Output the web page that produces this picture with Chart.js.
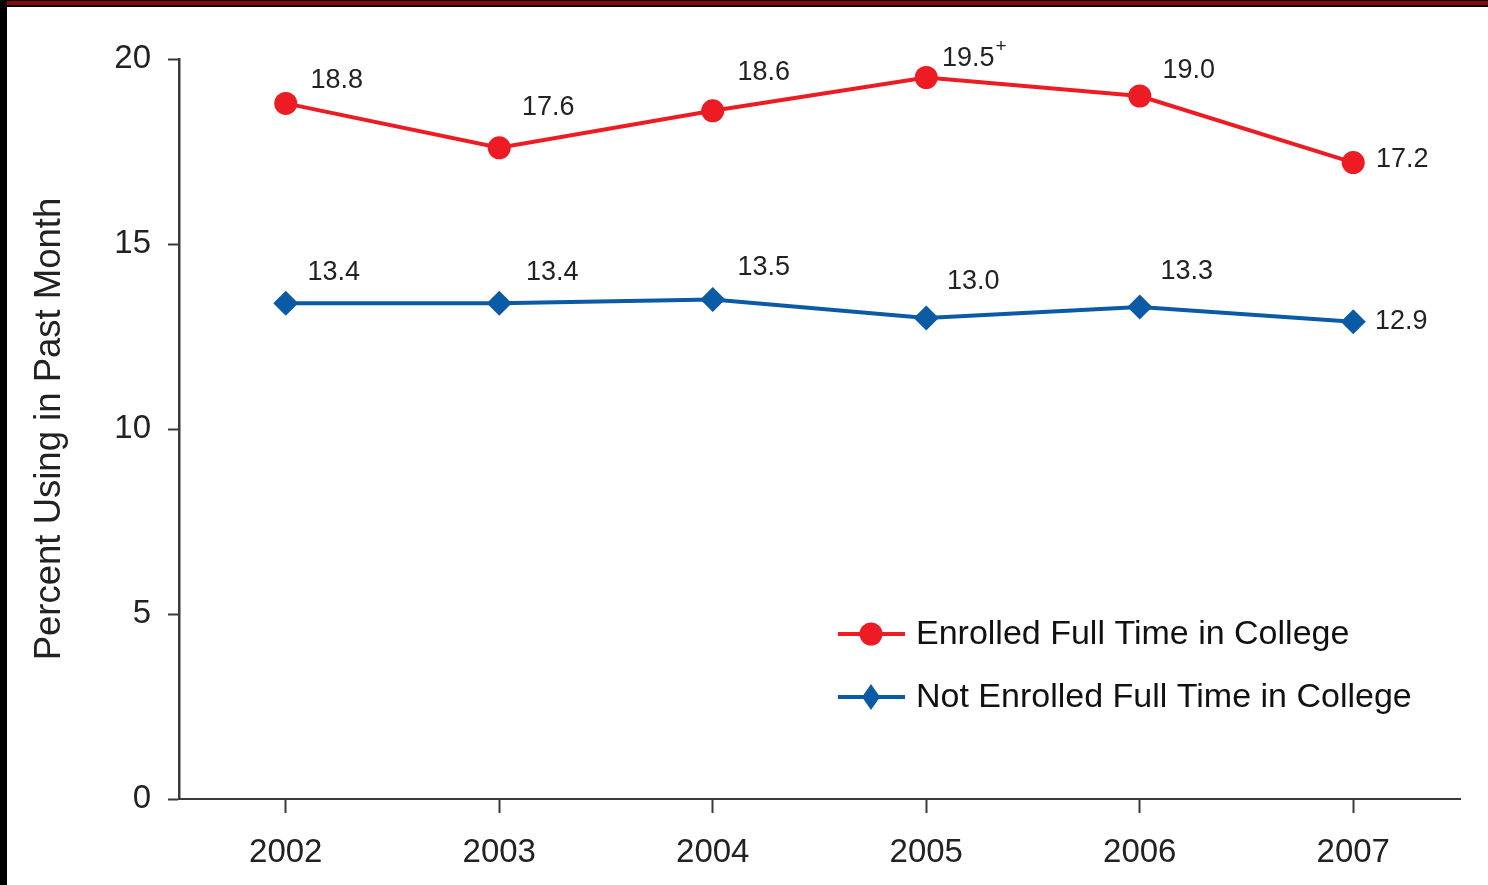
<!DOCTYPE html>
<html>
<head>
<meta charset="utf-8">
<script src="https://cdn.jsdelivr.net/npm/chart.js@4.4.0/dist/chart.umd.min.js"></script>
<style>
  html, body { margin: 0; padding: 0; background: #fff; }
  #wrap { position: relative; width: 1488px; height: 885px; overflow: hidden; }
  #barTop { position: absolute; left: 0; top: 0; width: 1488px; height: 7px;
            background: linear-gradient(#000 0px, #000 1px, #8a0a0a 1px, #8a0a0a 5px, #000 5px, #000 7px); }
  #barLeft { position: absolute; left: 0; top: 0; width: 7px; height: 885px; background: #000; }
  canvas { position: absolute; left: 0; top: 0; }
</style>
</head>
<body>
<div id="wrap">
  <canvas id="grafico" width="1488" height="885"></canvas>
  <div id="barTop"></div>
  <div id="barLeft"></div>
</div>
<script>
/* Dados do gráfico */
var anos = ['2002', '2003', '2004', '2005', '2006', '2007'];
var matriculados = [18.8, 17.6, 18.6, 19.5, 19.0, 17.2];
var naoMatriculados = [13.4, 13.4, 13.5, 13.0, 13.3, 12.9];
var rotulosMatriculados = ['18.8', '17.6', '18.6', '19.5', '19.0', '17.2'];
var rotulosNaoMatriculados = ['13.4', '13.4', '13.5', '13.0', '13.3', '12.9'];
var marcaMatriculados = ['', '', '', '+', '', ''];
var ticksY = [0, 5, 10, 15, 20];

var corVermelha = '#ed1c24';
var corAzul = '#0a5aa6';
var fonte = '"Liberation Sans", Arial, sans-serif';

/* deslocamento dos rótulos em relação ao ponto (px) */
var deslocMatriculados = [[51, -23], [49, -40], [51, -38], [42, -19], [49, -25], [49, -3]];
var deslocNaoMatriculados = [[48, -31], [53, -31], [51, -32], [47, -36], [47, -35], [48, 0]];

/* Plugin para escrever os valores */
var pluginRotulos = {
    id: 'rotulos',
    afterDatasetsDraw: function (chart) {
        var ctx = chart.ctx;
        var listas = [
            [rotulosMatriculados, deslocMatriculados, marcaMatriculados],
            [rotulosNaoMatriculados, deslocNaoMatriculados, null]
        ];
        ctx.save();
        ctx.fillStyle = '#222';
        ctx.textBaseline = 'middle';
        ctx.textAlign = 'center';
        for (var d = 0; d < listas.length; d++) {
            var meta = chart.getDatasetMeta(d);
            for (var i = 0; i < meta.data.length; i++) {
                var p = meta.data[i];
                var x = p.x + listas[d][1][i][0];
                var y = p.y + listas[d][1][i][1];
                ctx.font = '27px ' + fonte;
                ctx.fillText(listas[d][0][i], x, y);
                if (listas[d][2] && listas[d][2][i]) {
                    var w = ctx.measureText(listas[d][0][i]).width;
                    ctx.font = '19px ' + fonte;
                    ctx.textAlign = 'left';
                    ctx.fillText(listas[d][2][i], x + w / 2 + 1, y - 12);
                    ctx.textAlign = 'center';
                }
            }
        }
        ctx.restore();
    }
};

/* Plugin da legenda dentro do gráfico */
var pluginLegenda = {
    id: 'legendaInterna',
    afterDraw: function (chart) {
        var ctx = chart.ctx;
        var itens = [
            { texto: 'Enrolled Full Time in College', cor: corVermelha, tipo: 'circle', y: 634 },
            { texto: 'Not Enrolled Full Time in College', cor: corAzul, tipo: 'diamond', y: 697 }
        ];
        ctx.save();
        for (var i = 0; i < itens.length; i++) {
            var it = itens[i];
            ctx.strokeStyle = it.cor;
            ctx.fillStyle = it.cor;
            ctx.lineWidth = 4;
            ctx.beginPath();
            ctx.moveTo(838, it.y);
            ctx.lineTo(905, it.y);
            ctx.stroke();
            ctx.beginPath();
            if (it.tipo === 'circle') {
                ctx.arc(871, it.y, 11.5, 0, Math.PI * 2);
            } else {
                ctx.moveTo(871, it.y - 13);
                ctx.lineTo(880, it.y);
                ctx.lineTo(871, it.y + 13);
                ctx.lineTo(862, it.y);
                ctx.closePath();
            }
            ctx.fill();
            ctx.fillStyle = '#111';
            ctx.font = '34px ' + fonte;
            ctx.textAlign = 'left';
            ctx.textBaseline = 'middle';
            ctx.fillText(it.texto, 916, it.y + 1);
        }
        ctx.restore();
    }
};

var ctx = document.getElementById('grafico').getContext('2d');

var grafico = new Chart(ctx, {
    type: 'line',
    data: {
        labels: anos,
        datasets: [{
            label: 'Enrolled Full Time in College',
            data: matriculados,
            borderColor: corVermelha,
            backgroundColor: corVermelha,
            borderWidth: 4,
            pointStyle: 'circle',
            pointRadius: 11.5,
            pointBorderWidth: 0,
            tension: 0,
            fill: false
        }, {
            label: 'Not Enrolled Full Time in College',
            data: naoMatriculados,
            borderColor: corAzul,
            backgroundColor: corAzul,
            borderWidth: 4,
            pointStyle: 'rectRot',
            pointRadius: 12.5,
            pointBorderWidth: 0,
            tension: 0,
            fill: false
        }]
    },
    options: {
        responsive: false,
        animation: false,
        events: [],
        layout: {
            padding: { top: 59, right: 28, left: 0, bottom: 0 }
        },
        plugins: {
            legend: { display: false },
            title: { display: false },
            tooltip: { enabled: false }
        },
        scales: {
            x: {
                type: 'category',
                offset: true,
                afterFit: function (escala) { escala.height = 86; },
                grid: {
                    offset: false,
                    drawOnChartArea: false,
                    drawTicks: true,
                    tickLength: 14,
                    tickWidth: 2,
                    tickColor: '#3a3a3a'
                },
                border: { display: true, color: '#3a3a3a', width: 2 },
                ticks: {
                    color: '#222',
                    padding: 20,
                    maxRotation: 0,
                    font: { family: fonte, size: 33 }
                }
            },
            y: {
                min: 0,
                max: 20,
                afterFit: function (escala) { escala.width = 179; },
                afterBuildTicks: function (escala) {
                    escala.ticks = ticksY.map(function (v) { return { value: v }; });
                },
                grid: {
                    drawOnChartArea: false,
                    drawTicks: true,
                    tickLength: 11,
                    tickWidth: 2,
                    tickColor: '#3a3a3a'
                },
                border: { display: true, color: '#3a3a3a', width: 2.5 },
                ticks: {
                    color: '#222',
                    padding: 17,
                    font: { family: fonte, size: 33 }
                },
                title: {
                    display: true,
                    text: 'Percent Using in Past Month',
                    color: '#222',
                    font: { family: fonte, size: 36.5, lineHeight: 1 },
                    padding: { top: 32, bottom: 0 }
                }
            }
        }
    },
    plugins: [pluginRotulos, pluginLegenda]
});
</script>
</body>
</html>
